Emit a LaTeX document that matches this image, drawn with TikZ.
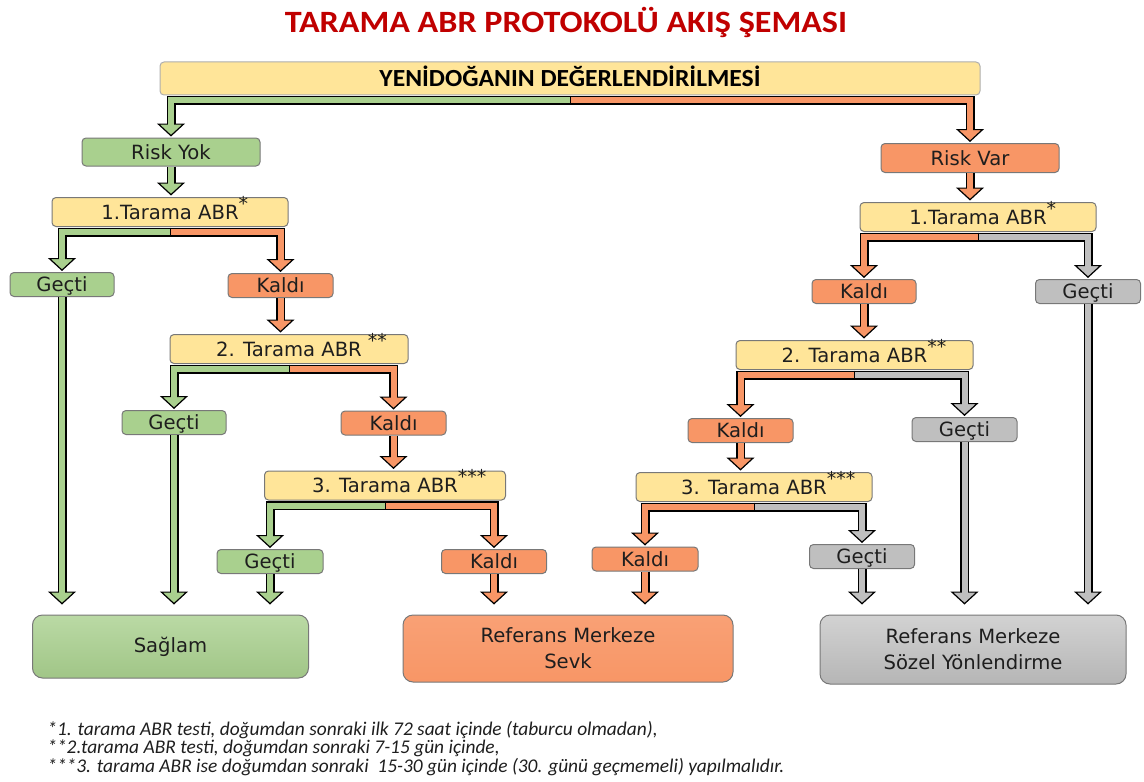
\documentclass[tikz,border=0pt]{standalone}
\usepackage{fontspec}
\setmainfont{DejaVu Sans}
\newfontfamily\carl{Carlito}
\usetikzlibrary{arrows.meta,calc}
\definecolor{cgreen}{RGB}{169,208,142}
\definecolor{corange}{RGB}{248,150,102}
\definecolor{cgray}{RGB}{191,191,191}
\definecolor{cyellow}{RGB}{255,229,153}
\definecolor{ctext}{RGB}{30,30,30}
\definecolor{cred}{RGB}{192,0,0}
\definecolor{cborder}{RGB}{120,120,120}
\tikzset{
  wh/.style 2 args={minimum width=#1*0.5pt, minimum height=#2*0.5pt},
  box/.style={draw=cborder, line width=0.5pt, rounded corners=2pt, inner sep=0pt,
    text=ctext, font=\fontsize{9.8}{11}\selectfont, text height=7.1pt, text depth=0pt},
  gbox/.style={box, fill=cgreen},
  obox/.style={box, fill=corange},
  ybox/.style={box, fill=cyellow},
  sbox/.style={box, fill=cgray},
  bigbox/.style={draw=cborder, line width=0.5pt, rounded corners=5pt, inner sep=0pt,
    text=ctext, font=\fontsize{9.8}{13}\selectfont, align=center},
  fatout/.style={draw=black, line width=4.5pt},
  fatin/.style={line width=3pt},
  divider/.style={draw=black, line width=0.5pt},
  fn/.style={inner sep=0pt, text=ctext, font=\carl\itshape\fontsize{9.7}{10}\selectfont},
}
\newcommand\fatdown[4]{%
  \draw[fatout, -{Triangle[width=14pt,length=6.5pt,line width=0.6pt,fill=#1]}]
    (#2.south) -- ($(#2.south |- #3.north)+(0,-#4)$);
  \draw[fatin, #1, shorten >=5.5pt] (#2.south) -- ($(#2.south |- #3.north)+(0,-#4)$);
}
\newcommand\branch[5]{%
  \coordinate (#1b) at ($(#1.south)+(0,5)$);
  \draw[fatout, {Triangle[width=14pt,length=6.5pt,line width=0.6pt,fill=#4]}-{Triangle[width=14pt,length=6.5pt,line width=0.6pt,fill=#5]}]
    ($(#2.north)+(0,-1)$) -- (#2.north |- #1b) -- (#3.north |- #1b) -- ($(#3.north)+(0,-1)$);
  \draw[fatin, #4, shorten <=5.5pt] ($(#2.north)+(0,-1)$) -- (#2.north |- #1b) -- (#1b);
  \draw[fatin, #5, shorten >=5.5pt] (#1b) -- (#3.north |- #1b) -- ($(#3.north)+(0,-1)$);
  \draw[divider] ($(#1b)+(0,-4.5)$) -- ($(#1b)+(0,4.5)$);
}
\newcommand\astx[1]{\rlap{\raisebox{0.45em}{\fontsize{9.5}{9}\selectfont #1}}}
\begin{document}
\begin{tikzpicture}[x=0.5pt,y=-0.5pt]
\useasboundingbox (0,0) rectangle (1144,781);
% title
\node[anchor=base, inner sep=0pt, text=cred, xscale=1.1, font=\carl\bfseries\fontsize{15.5}{17}\selectfont] (title) at (566,33) {TARAMA ABR PROTOKOLÜ AKIŞ ŞEMASI};
% top
\node[ybox, draw=cborder!60, wh={820}{33}] (top) at (570,78.5) {};
\node[inner sep=0pt, xscale=1.04, text=black, font=\carl\bfseries\fontsize{12.3}{14}\selectfont, text height=7.9pt, text depth=0pt] (toptext) at (top.center) {YENİDOĞANIN DEĞERLENDİRİLMESİ};
\node[gbox, wh={178}{28}] (ryok) at (171,152) {Risk Yok};
\node[obox, wh={178}{29}] (rvar) at (970,158) {Risk Var};
% left tree
\node[ybox, wh={236}{29}] (t1l) at (170,212) {1.Tarama ABR\astx{*}};
\node[gbox, wh={104}{24}] (g1l) at (62,284.5) {Geçti};
\node[obox, wh={105}{24}] (k1l) at (280.5,285.5) {Kaldı};
\node[ybox, wh={238}{29}] (t2l) at (289,349) {2. Tarama ABR\astx{ **}};
\node[gbox, wh={104}{24}] (g2l) at (174,422.5) {Geçti};
\node[obox, wh={105}{24}] (k2l) at (393.5,423) {Kaldı};
\node[ybox, wh={241}{29}] (t3l) at (385,485.5) {3. Tarama ABR\astx{***}};
\node[gbox, wh={106}{24}] (g3l) at (270,561.5) {Geçti};
\node[obox, wh={105}{24}] (k3l) at (494,561.5) {Kaldı};
% right tree
\node[ybox, wh={236}{29}] (t1r) at (978,217) {1.Tarama ABR\astx{*}};
\node[obox, wh={104}{24}] (k1r) at (864,291.5) {Kaldı};
\node[sbox, wh={105}{24}] (g1r) at (1088,291.5) {Geçti};
\node[ybox, wh={237}{29}] (t2r) at (854.5,355) {2. Tarama ABR\astx{**}};
\node[obox, wh={105}{24}] (k2r) at (740.5,430.5) {Kaldı};
\node[sbox, wh={105}{24}] (g2r) at (964.5,429.5) {Geçti};
\node[ybox, wh={236}{29}] (t3r) at (754,487) {3. Tarama ABR\astx{***}};
\node[obox, wh={106}{24}] (k3r) at (645,559) {Kaldı};
\node[sbox, wh={105}{24}] (g3r) at (862,556.5) {Geçti};
% bottom
\node[bigbox, wh={276}{63}, top color=cgreen!80!white, bottom color=cgreen!95!black] (sag) at (170.5,646.5) {Sağlam};
\node[bigbox, wh={330}{67}, top color=corange!90!white, bottom color=corange] (sevk) at (568,648.5) {Referans Merkeze\\Sevk};
\node[bigbox, wh={306}{69}, top color=cgray!70!white, bottom color=cgray!95!black] (sozel) at (973,649.5) {Referans Merkeze\\Sözel Yönlendirme};
% footnotes
\node[fn, anchor=base west] (fn1) at (47,735) {*1. tarama ABR testi, doğumdan sonraki ilk 72 saat içinde (taburcu olmadan),};
\node[fn, anchor=base west] (fn2) at (47,753.5) {**2.tarama ABR testi, doğumdan sonraki 7-15 gün içinde,};
\node[fn, anchor=base west] (fn3) at (47,772) {***3. tarama ABR ise doğumdan sonraki~ 15-30 gün içinde (30. günü geçmemeli) yapılmalıdır.};
% connectors
\branch{top}{ryok}{rvar}{cgreen}{corange}
\branch{t1l}{g1l}{k1l}{cgreen}{corange}
\branch{t2l}{g2l}{k2l}{cgreen}{corange}
\branch{t3l}{g3l}{k3l}{cgreen}{corange}
\branch{t1r}{k1r}{g1r}{corange}{cgray}
\branch{t2r}{k2r}{g2r}{corange}{cgray}
\branch{t3r}{k3r}{g3r}{corange}{cgray}
\fatdown{cgreen}{ryok}{t1l}{1.5}
\fatdown{corange}{rvar}{t1r}{1.5}
\fatdown{corange}{k1l}{t2l}{1.5}
\fatdown{corange}{k2l}{t3l}{1.5}
\fatdown{corange}{k1r}{t2r}{1.5}
\fatdown{corange}{k2r}{t3r}{1.5}
\fatdown{cgreen}{g1l}{sag}{10}
\fatdown{cgreen}{g2l}{sag}{10}
\fatdown{cgreen}{g3l}{sag}{10}
\fatdown{corange}{k3l}{sevk}{10}
\fatdown{corange}{k3r}{sevk}{10}
\fatdown{cgray}{g3r}{sozel}{10}
\fatdown{cgray}{g2r}{sozel}{10}
\fatdown{cgray}{g1r}{sozel}{10}
\end{tikzpicture}
\end{document}
